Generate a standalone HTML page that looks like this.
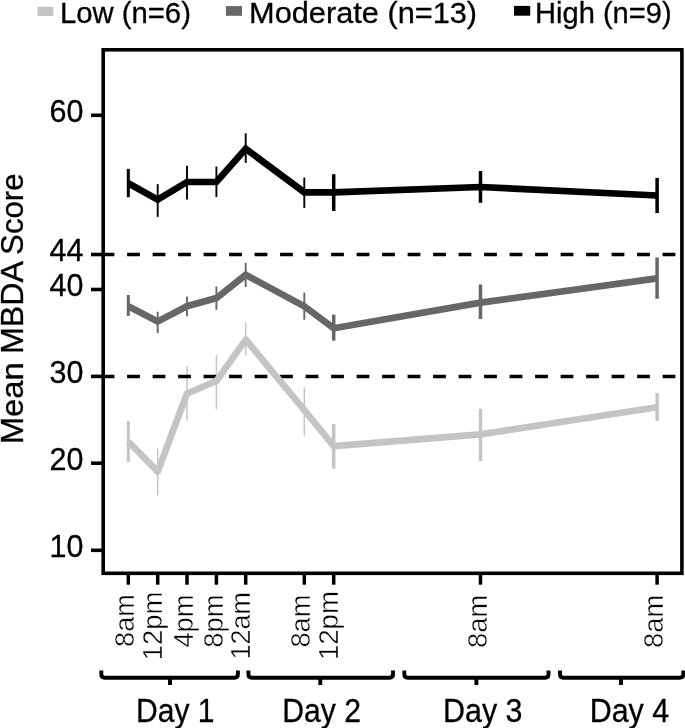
<!DOCTYPE html>
<html lang="en"><head><meta charset="utf-8"><title>Mean MBDA Score</title>
<style>html,body{margin:0;padding:0;background:#fff}svg{display:block}text{font-family:"Liberation Sans",sans-serif;fill:#000;stroke:#000;stroke-width:.3px}text.t{stroke:#fff;stroke-width:.45px}</style></head>
<body>
<svg width="685" height="728" viewBox="0 0 685 728">
<rect width="685" height="728" fill="#fff"/>
<rect x="37.6" y="6.8" width="15.7" height="9.1" fill="#c2c2c2"/>
<rect x="225.9" y="6.1" width="16.1" height="9.7" fill="#676767"/>
<rect x="514" y="5.9" width="16.2" height="9.8" fill="#000"/>
<text x="59.9" y="23.35" font-size="29.6" textLength="131" lengthAdjust="spacingAndGlyphs">Low (n=6)</text>
<text x="249.1" y="23.35" font-size="29.6" textLength="228" lengthAdjust="spacingAndGlyphs">Moderate (n=13)</text>
<text x="535.1" y="22.75" font-size="29.6" textLength="136.5" lengthAdjust="spacingAndGlyphs">High (n=9)</text>
<line x1="128.3" y1="421.1" x2="128.3" y2="462.2" stroke="#c4c4c4" stroke-width="3.0"/>
<line x1="157.7" y1="448.6" x2="157.7" y2="495.5" stroke="#c4c4c4" stroke-width="1.5"/>
<line x1="187.0" y1="366.3" x2="187.0" y2="420.4" stroke="#c4c4c4" stroke-width="1.5"/>
<line x1="216.4" y1="354.7" x2="216.4" y2="409.3" stroke="#c4c4c4" stroke-width="1.5"/>
<line x1="245.7" y1="322.3" x2="245.7" y2="355.5" stroke="#c4c4c4" stroke-width="1.5"/>
<line x1="304.3" y1="387.6" x2="304.3" y2="435.6" stroke="#c4c4c4" stroke-width="1.5"/>
<line x1="333.7" y1="424" x2="333.7" y2="468.6" stroke="#c4c4c4" stroke-width="3.5"/>
<line x1="480.5" y1="408.6" x2="480.5" y2="461" stroke="#c4c4c4" stroke-width="3.5"/>
<line x1="657.1" y1="393.1" x2="657.1" y2="420.8" stroke="#c4c4c4" stroke-width="3.5"/>
<line x1="128.3" y1="295" x2="128.3" y2="315.9" stroke="#676767" stroke-width="3.0"/>
<line x1="157.7" y1="311.7" x2="157.7" y2="333" stroke="#676767" stroke-width="1.9"/>
<line x1="187.0" y1="296.6" x2="187.0" y2="316.3" stroke="#676767" stroke-width="1.9"/>
<line x1="216.4" y1="286.5" x2="216.4" y2="309.8" stroke="#676767" stroke-width="1.9"/>
<line x1="245.7" y1="262.9" x2="245.7" y2="287" stroke="#676767" stroke-width="1.9"/>
<line x1="304.3" y1="292.7" x2="304.3" y2="319.7" stroke="#676767" stroke-width="1.9"/>
<line x1="333.7" y1="314.6" x2="333.7" y2="340.6" stroke="#676767" stroke-width="3.5"/>
<line x1="480.5" y1="284.5" x2="480.5" y2="319" stroke="#676767" stroke-width="3.5"/>
<line x1="657.1" y1="257.5" x2="657.1" y2="298.7" stroke="#676767" stroke-width="3.5"/>
<line x1="128.3" y1="168.9" x2="128.3" y2="197.2" stroke="#000000" stroke-width="3.0"/>
<line x1="157.7" y1="184.2" x2="157.7" y2="216.9" stroke="#000000" stroke-width="1.9"/>
<line x1="187.0" y1="165.8" x2="187.0" y2="199.6" stroke="#000000" stroke-width="1.9"/>
<line x1="216.4" y1="166.6" x2="216.4" y2="197" stroke="#000000" stroke-width="1.9"/>
<line x1="245.7" y1="133.3" x2="245.7" y2="162.9" stroke="#000000" stroke-width="1.9"/>
<line x1="304.3" y1="177.6" x2="304.3" y2="207.9" stroke="#000000" stroke-width="1.9"/>
<line x1="333.7" y1="174.2" x2="333.7" y2="210.9" stroke="#000000" stroke-width="3.5"/>
<line x1="480.5" y1="171" x2="480.5" y2="202.8" stroke="#000000" stroke-width="3.5"/>
<line x1="657.1" y1="177.9" x2="657.1" y2="213.1" stroke="#000000" stroke-width="3.5"/>
<line x1="101.6" y1="254.5" x2="682" y2="254.5" stroke="#000" stroke-width="3.7" stroke-dasharray="12.8 12.7"/>
<line x1="101.6" y1="376.5" x2="682" y2="376.5" stroke="#000" stroke-width="3.7" stroke-dasharray="12.8 12.7"/>
<polyline points="128.3,441.5 157.7,471.7 187.0,393.5 216.4,381 245.7,339.6 304.3,410.2 333.7,446.1 480.5,434.4 657.1,407.3" fill="none" stroke="#c4c4c4" stroke-width="6.7" stroke-linejoin="round"/>
<polyline points="128.3,306.3 157.7,321.5 187.0,306.2 216.4,298.1 245.7,274.8 304.3,306.4 333.7,328.2 480.5,302.6 657.1,278.4" fill="none" stroke="#676767" stroke-width="6.7" stroke-linejoin="miter"/>
<polyline points="128.3,183.2 157.7,199.6 187.0,182 216.4,182 245.7,148.8 304.3,192.3 333.7,192.3 480.5,187.0 657.1,195.5" fill="none" stroke="#000000" stroke-width="6.7" stroke-linejoin="miter"/>
<rect x="103.2" y="49.8" width="578.7" height="523.5" fill="none" stroke="#000" stroke-width="3.6"/>
<line x1="91" y1="115.3" x2="102" y2="115.3" stroke="#000" stroke-width="3.6"/>
<text x="49.6" y="122.0" font-size="30.6" textLength="33.9" lengthAdjust="spacingAndGlyphs">60</text>
<line x1="91" y1="254.5" x2="102" y2="254.5" stroke="#000" stroke-width="3.6"/>
<text x="49.6" y="261.2" font-size="30.6" textLength="33.9" lengthAdjust="spacingAndGlyphs">44</text>
<line x1="91" y1="289.5" x2="102" y2="289.5" stroke="#000" stroke-width="3.6"/>
<text x="49.6" y="296.2" font-size="30.6" textLength="33.9" lengthAdjust="spacingAndGlyphs">40</text>
<line x1="91" y1="376.4" x2="102" y2="376.4" stroke="#000" stroke-width="3.6"/>
<text x="49.6" y="383.1" font-size="30.6" textLength="33.9" lengthAdjust="spacingAndGlyphs">30</text>
<line x1="91" y1="463.2" x2="102" y2="463.2" stroke="#000" stroke-width="3.6"/>
<text x="49.6" y="469.9" font-size="30.6" textLength="33.9" lengthAdjust="spacingAndGlyphs">20</text>
<line x1="91" y1="550.3" x2="102" y2="550.3" stroke="#000" stroke-width="3.6"/>
<text x="49.6" y="557.0" font-size="30.6" textLength="33.9" lengthAdjust="spacingAndGlyphs">10</text>
<line x1="128.3" y1="574" x2="128.3" y2="584.7" stroke="#000" stroke-width="3.5"/>
<line x1="157.7" y1="574" x2="157.7" y2="584.7" stroke="#000" stroke-width="3.5"/>
<line x1="187.0" y1="574" x2="187.0" y2="584.7" stroke="#000" stroke-width="3.5"/>
<line x1="216.4" y1="574" x2="216.4" y2="584.7" stroke="#000" stroke-width="3.5"/>
<line x1="245.7" y1="574" x2="245.7" y2="584.7" stroke="#000" stroke-width="3.5"/>
<line x1="304.3" y1="574" x2="304.3" y2="584.7" stroke="#000" stroke-width="3.5"/>
<line x1="333.7" y1="574" x2="333.7" y2="584.7" stroke="#000" stroke-width="3.5"/>
<line x1="480.5" y1="574" x2="480.5" y2="584.7" stroke="#000" stroke-width="3.5"/>
<line x1="657.1" y1="574" x2="657.1" y2="584.7" stroke="#000" stroke-width="3.5"/>
<text transform="translate(134.4,646.9) rotate(-90)" class="t" font-size="27.7" textLength="52.6" lengthAdjust="spacingAndGlyphs">8am</text>
<text transform="translate(161.7,660.3) rotate(-90)" class="t" font-size="27.7" textLength="68.7" lengthAdjust="spacingAndGlyphs">12pm</text>
<text transform="translate(192.8,647.6) rotate(-90)" class="t" font-size="27.7" textLength="53.1" lengthAdjust="spacingAndGlyphs">4pm</text>
<text transform="translate(222.5,647.8) rotate(-90)" class="t" font-size="27.7" textLength="53.3" lengthAdjust="spacingAndGlyphs">8pm</text>
<text transform="translate(250,659.4) rotate(-90)" class="t" font-size="27.7" textLength="67.4" lengthAdjust="spacingAndGlyphs">12am</text>
<text transform="translate(310.3,647.6) rotate(-90)" class="t" font-size="27.7" textLength="52.9" lengthAdjust="spacingAndGlyphs">8am</text>
<text transform="translate(337.8,660.1) rotate(-90)" class="t" font-size="27.7" textLength="69.0" lengthAdjust="spacingAndGlyphs">12pm</text>
<text transform="translate(486.5,647.9) rotate(-90)" class="t" font-size="27.7" textLength="53.2" lengthAdjust="spacingAndGlyphs">8am</text>
<text transform="translate(663.3,647.9) rotate(-90)" class="t" font-size="27.7" textLength="53.2" lengthAdjust="spacingAndGlyphs">8am</text>
<text transform="translate(23.2,444.3) rotate(-90)" font-size="31.8" textLength="82.2" lengthAdjust="spacingAndGlyphs">Mean</text>
<text transform="translate(23.2,354) rotate(-90)" font-size="31.8" textLength="93.0" lengthAdjust="spacingAndGlyphs">MBDA</text>
<text transform="translate(23.2,254.9) rotate(-90)" font-size="31.8" textLength="81.4" lengthAdjust="spacingAndGlyphs">Score</text>
<path d="M101.3,670.4 V674.3000000000001 Q101.3,677.7 104.7,677.7 H234.5 Q237.9,677.7 237.9,674.3000000000001 V670.4 M170,677.7 V684.9" fill="none" stroke="#000" stroke-width="3.9"/>
<path d="M248.4,670.4 V674.3000000000001 Q248.4,677.7 251.8,677.7 H389.6 Q393,677.7 393,674.3000000000001 V670.4 M320.3,677.7 V684.9" fill="none" stroke="#000" stroke-width="3.9"/>
<path d="M404.3,670.4 V674.3000000000001 Q404.3,677.7 407.7,677.7 H545.1 Q548.5,677.7 548.5,674.3000000000001 V670.4 M476.4,677.7 V684.9" fill="none" stroke="#000" stroke-width="3.9"/>
<path d="M560,670.4 V674.3000000000001 Q560,677.7 563.4,677.7 H679.9 Q683.3,677.7 683.3,674.3000000000001 V670.4 M621,677.7 V684.9" fill="none" stroke="#000" stroke-width="3.9"/>
<text x="136.0" y="722.2" font-size="33.2" textLength="78.5" lengthAdjust="spacingAndGlyphs">Day 1</text>
<text x="282.2" y="722.2" font-size="33.2" textLength="78.7" lengthAdjust="spacingAndGlyphs">Day 2</text>
<text x="443.0" y="722.2" font-size="33.2" textLength="79.5" lengthAdjust="spacingAndGlyphs">Day 3</text>
<text x="589.7" y="722.2" font-size="33.2" textLength="79.4" lengthAdjust="spacingAndGlyphs">Day 4</text>
</svg>
</body></html>
